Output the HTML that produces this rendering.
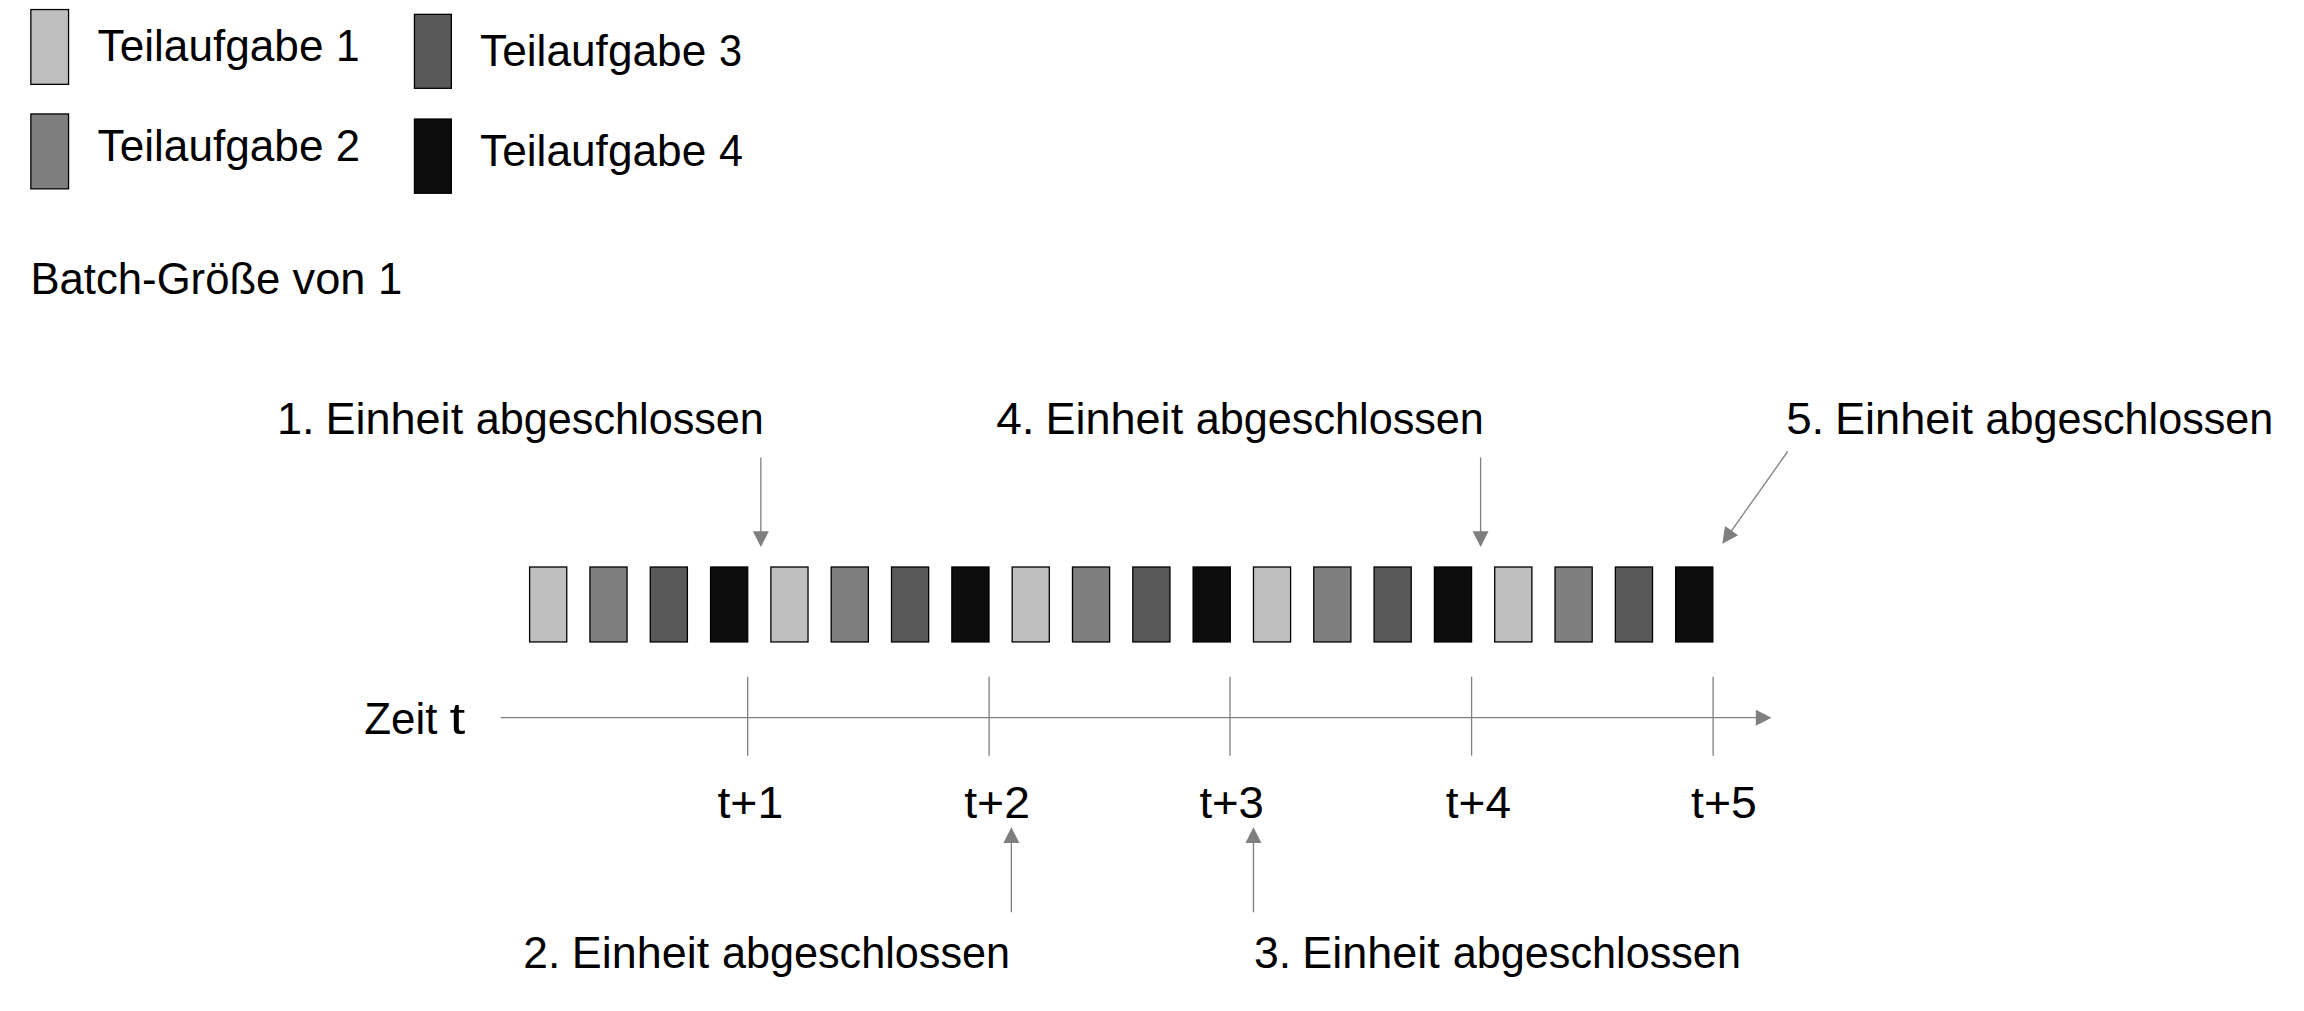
<!DOCTYPE html>
<html lang="de">
<head>
<meta charset="utf-8">
<title>Batch-Größe von 1</title>
<style>
html,body{margin:0;padding:0;background:#fff;}
body{width:2304px;height:1011px;overflow:hidden;}
svg{display:block;}
text{font-family:"Liberation Sans",sans-serif;font-size:44.5px;fill:#000;}
.bx{stroke:#000;stroke-width:1.3;}
.ln{stroke:#7f7f7f;stroke-width:1.3;fill:none;}
.ah{fill:#7f7f7f;stroke:none;}
</style>
</head>
<body>
<svg width="2304" height="1011" viewBox="0 0 2304 1011" role="img" aria-label="Batch-Größe von 1: Zeitachse mit Teilaufgaben">
<rect x="0" y="0" width="2304" height="1011" fill="#ffffff"/>

<g id="legend-swatches">
<rect class="bx" x="30.85" y="9.55" width="37.70" height="74.80" fill="#bfbfbf"/>
<rect class="bx" x="30.85" y="113.95" width="37.70" height="74.90" fill="#7f7f7f"/>
<rect class="bx" x="414.45" y="14.35" width="36.90" height="73.95" fill="#595959"/>
<rect class="bx" x="414.45" y="119.05" width="36.90" height="74.20" fill="#0d0d0d"/>
</g>
<g id="task-bars">
<rect class="bx" x="529.60" y="567.00" width="37.15" height="74.95" fill="#bfbfbf"/>
<rect class="bx" x="589.92" y="567.00" width="37.15" height="74.95" fill="#7f7f7f"/>
<rect class="bx" x="650.24" y="567.00" width="37.15" height="74.95" fill="#595959"/>
<rect class="bx" x="710.56" y="567.00" width="37.15" height="74.95" fill="#0d0d0d"/>
<rect class="bx" x="770.88" y="567.00" width="37.15" height="74.95" fill="#bfbfbf"/>
<rect class="bx" x="831.20" y="567.00" width="37.15" height="74.95" fill="#7f7f7f"/>
<rect class="bx" x="891.52" y="567.00" width="37.15" height="74.95" fill="#595959"/>
<rect class="bx" x="951.84" y="567.00" width="37.15" height="74.95" fill="#0d0d0d"/>
<rect class="bx" x="1012.16" y="567.00" width="37.15" height="74.95" fill="#bfbfbf"/>
<rect class="bx" x="1072.48" y="567.00" width="37.15" height="74.95" fill="#7f7f7f"/>
<rect class="bx" x="1132.80" y="567.00" width="37.15" height="74.95" fill="#595959"/>
<rect class="bx" x="1193.12" y="567.00" width="37.15" height="74.95" fill="#0d0d0d"/>
<rect class="bx" x="1253.44" y="567.00" width="37.15" height="74.95" fill="#bfbfbf"/>
<rect class="bx" x="1313.76" y="567.00" width="37.15" height="74.95" fill="#7f7f7f"/>
<rect class="bx" x="1374.08" y="567.00" width="37.15" height="74.95" fill="#595959"/>
<rect class="bx" x="1434.40" y="567.00" width="37.15" height="74.95" fill="#0d0d0d"/>
<rect class="bx" x="1494.72" y="567.00" width="37.15" height="74.95" fill="#bfbfbf"/>
<rect class="bx" x="1555.04" y="567.00" width="37.15" height="74.95" fill="#7f7f7f"/>
<rect class="bx" x="1615.36" y="567.00" width="37.15" height="74.95" fill="#595959"/>
<rect class="bx" x="1675.68" y="567.00" width="37.15" height="74.95" fill="#0d0d0d"/>
</g>
<g id="time-axis">
<line class="ln" x1="500.7" y1="717.7" x2="1757" y2="717.7"/>
<polygon class="ah" points="1771.5,717.7 1755.8,709.8 1755.8,725.8"/>
<line class="ln" x1="747.65" y1="676.8" x2="747.65" y2="755.7"/>
<line class="ln" x1="989.10" y1="676.8" x2="989.10" y2="755.7"/>
<line class="ln" x1="1230.00" y1="676.8" x2="1230.00" y2="755.7"/>
<line class="ln" x1="1471.60" y1="676.8" x2="1471.60" y2="755.7"/>
<line class="ln" x1="1713.10" y1="676.8" x2="1713.10" y2="755.7"/>
</g>
<g id="annotation-arrows">
<line class="ln" x1="760.85" y1="457.50" x2="760.85" y2="533.10"/>
<polygon class="ah" points="760.85,547.10 752.85,531.30 768.85,531.30"/>
<line class="ln" x1="1480.60" y1="457.50" x2="1480.60" y2="533.10"/>
<polygon class="ah" points="1480.60,547.10 1472.60,531.30 1488.60,531.30"/>
<line class="ln" x1="1011.35" y1="912.30" x2="1011.35" y2="841.30"/>
<polygon class="ah" points="1011.35,827.30 1003.35,842.90 1019.35,842.90"/>
<line class="ln" x1="1253.45" y1="912.30" x2="1253.45" y2="841.30"/>
<polygon class="ah" points="1253.45,827.30 1245.45,842.90 1261.45,842.90"/>
<line class="ln" x1="1787.70" y1="451.50" x2="1730.40" y2="532.28"/>
<polygon class="ah" points="1722.30,543.70 1725.03,526.02 1738.08,535.28"/>
</g>
<g id="labels">
<text y="61"><tspan x="97.57" textLength="225.93" lengthAdjust="spacingAndGlyphs">Teilaufgabe</tspan> <tspan x="336.06" textLength="23.56" lengthAdjust="spacingAndGlyphs">1</tspan></text>
<text y="161"><tspan x="97.57" textLength="225.93" lengthAdjust="spacingAndGlyphs">Teilaufgabe</tspan> <tspan x="335.70" textLength="24.29" lengthAdjust="spacingAndGlyphs">2</tspan></text>
<text y="66"><tspan x="480.10" textLength="226.18" lengthAdjust="spacingAndGlyphs">Teilaufgabe</tspan> <tspan x="719.05" textLength="23.05" lengthAdjust="spacingAndGlyphs">3</tspan></text>
<text y="166"><tspan x="480.10" textLength="226.18" lengthAdjust="spacingAndGlyphs">Teilaufgabe</tspan> <tspan x="718.88" textLength="24.00" lengthAdjust="spacingAndGlyphs">4</tspan></text>
<text y="294"><tspan x="30.43" textLength="249.99" lengthAdjust="spacingAndGlyphs">Batch-Größe</tspan> <tspan x="292.59" textLength="72.90" lengthAdjust="spacingAndGlyphs">von</tspan> <tspan x="377.99" textLength="24.25" lengthAdjust="spacingAndGlyphs">1</tspan></text>
<text y="434"><tspan x="276.97" textLength="37.64" lengthAdjust="spacingAndGlyphs">1.</tspan> <tspan x="325.41" textLength="137.75" lengthAdjust="spacingAndGlyphs">Einheit</tspan> <tspan x="475.80" textLength="288.09" lengthAdjust="spacingAndGlyphs">abgeschlossen</tspan></text>
<text y="434"><tspan x="996.31" textLength="38.36" lengthAdjust="spacingAndGlyphs">4.</tspan> <tspan x="1045.41" textLength="137.75" lengthAdjust="spacingAndGlyphs">Einheit</tspan> <tspan x="1195.80" textLength="288.09" lengthAdjust="spacingAndGlyphs">abgeschlossen</tspan></text>
<text y="434"><tspan x="1786.15" textLength="38.19" lengthAdjust="spacingAndGlyphs">5.</tspan> <tspan x="1834.95" textLength="138.01" lengthAdjust="spacingAndGlyphs">Einheit</tspan> <tspan x="1985.49" textLength="287.83" lengthAdjust="spacingAndGlyphs">abgeschlossen</tspan></text>
<text y="968"><tspan x="523.28" textLength="36.95" lengthAdjust="spacingAndGlyphs">2.</tspan> <tspan x="571.84" textLength="137.29" lengthAdjust="spacingAndGlyphs">Einheit</tspan> <tspan x="721.88" textLength="288.23" lengthAdjust="spacingAndGlyphs">abgeschlossen</tspan></text>
<text y="968"><tspan x="1253.96" textLength="37.11" lengthAdjust="spacingAndGlyphs">3.</tspan> <tspan x="1302.25" textLength="137.59" lengthAdjust="spacingAndGlyphs">Einheit</tspan> <tspan x="1452.81" textLength="288.11" lengthAdjust="spacingAndGlyphs">abgeschlossen</tspan></text>
<text y="734"><tspan x="364.27" textLength="73.16" lengthAdjust="spacingAndGlyphs">Zeit</tspan> <tspan x="449.58" textLength="15.79" lengthAdjust="spacingAndGlyphs">t</tspan></text>
<text y="818"><tspan x="717.42" textLength="65.79" lengthAdjust="spacingAndGlyphs">t+1</tspan></text>
<text y="818"><tspan x="964.24" textLength="65.68" lengthAdjust="spacingAndGlyphs">t+2</tspan></text>
<text y="818"><tspan x="1199.42" textLength="64.53" lengthAdjust="spacingAndGlyphs">t+3</tspan></text>
<text y="818"><tspan x="1445.84" textLength="65.14" lengthAdjust="spacingAndGlyphs">t+4</tspan></text>
<text y="818"><tspan x="1691.08" textLength="65.79" lengthAdjust="spacingAndGlyphs">t+5</tspan></text>
</g>
</svg>
</body>
</html>
